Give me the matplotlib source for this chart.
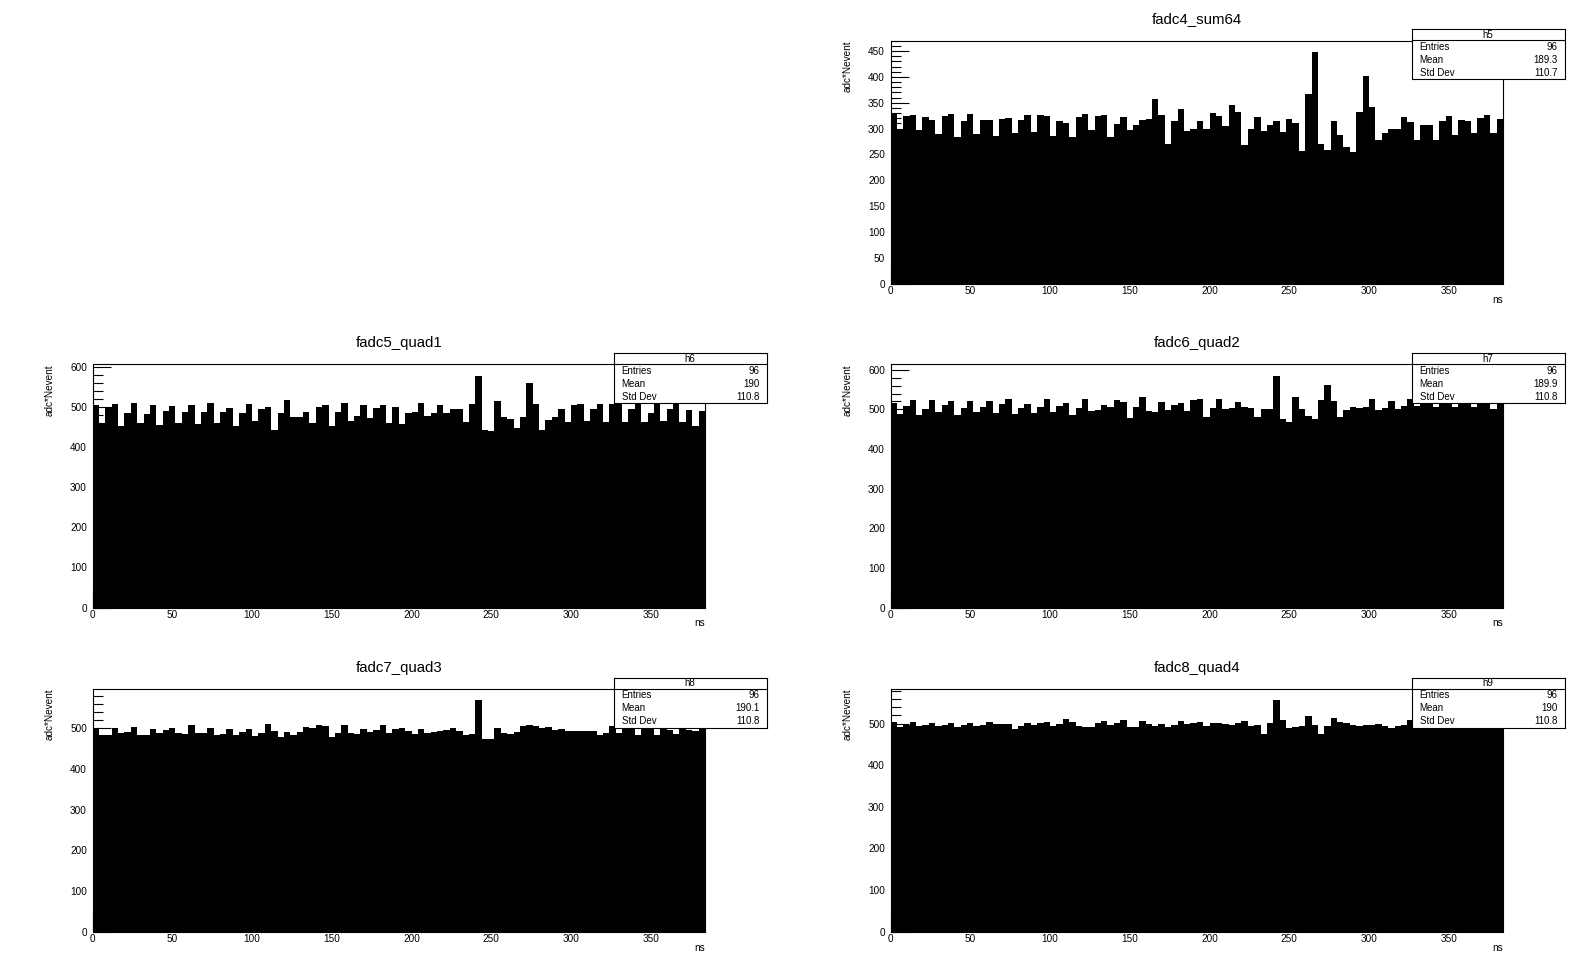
import numpy as np
import matplotlib
matplotlib.use("Agg")
import matplotlib.pyplot as plt
from matplotlib.ticker import MultipleLocator

plt.rcParams['font.family'] = ['Liberation Sans', 'DejaVu Sans']

# ---------------- data ----------------
bin_edges_ns = np.arange(0, 385, 4)   # 96 bins of 4 ns

fadc4_sum64 = [329, 300, 325, 327, 298, 323, 317, 290, 325, 329, 284, 314, 329, 290, 317, 317,
               286, 319, 321, 292, 316, 327, 294, 327, 325, 286, 314, 310, 284, 323, 329, 298,
               325, 327, 284, 308, 323, 298, 306, 316, 319, 358, 327, 271, 314, 337, 296, 300,
               314, 300, 330, 325, 304, 345, 332, 268, 299, 323, 295, 306, 315, 294, 319, 310,
               257, 367, 448, 271, 258, 315, 288, 265, 255, 332, 401, 341, 278, 291, 299, 300,
               323, 312, 278, 307, 306, 278, 315, 325, 288, 317, 315, 291, 321, 327, 291, 319]

fadc5_quad1 = [504, 461, 500, 507, 453, 485, 510, 461, 482, 504, 455, 489, 502, 461, 487, 504,
               458, 487, 511, 461, 487, 497, 453, 485, 507, 466, 494, 499, 443, 485, 518, 475,
               475, 487, 461, 499, 504, 453, 487, 509, 464, 477, 504, 472, 497, 504, 461, 499,
               458, 485, 488, 510, 478, 484, 504, 484, 494, 496, 463, 508, 577, 443, 439, 514,
               476, 470, 447, 476, 559, 508, 443, 468, 476, 496, 463, 504, 508, 466, 496, 508,
               463, 508, 508, 463, 496, 508, 463, 484, 508, 466, 496, 510, 463, 492, 452, 490]

fadc6_quad2 = [517, 489, 509, 524, 486, 501, 524, 494, 511, 521, 486, 504, 521, 494, 506, 521,
               491, 514, 526, 488, 504, 514, 491, 506, 526, 494, 509, 516, 486, 504, 526, 496,
               499, 511, 506, 524, 519, 479, 506, 532, 496, 494, 519, 499, 511, 516, 496, 524,
               526, 481, 503, 526, 501, 503, 519, 506, 503, 481, 501, 501, 584, 476, 469, 532,
               501, 484, 476, 524, 562, 522, 481, 498, 506, 503, 506, 526, 498, 503, 522, 501,
               509, 526, 508, 525, 520, 505, 524, 518, 506, 522, 515, 506, 524, 520, 500, 515]

fadc7_quad3 = [500, 485, 485, 501, 489, 491, 503, 485, 485, 498, 489, 496, 501, 489, 486, 508,
               489, 489, 501, 484, 486, 498, 484, 491, 498, 481, 490, 511, 493, 479, 491, 484,
               491, 503, 501, 508, 506, 479, 489, 508, 489, 486, 498, 491, 496, 508, 489, 498,
               501, 493, 487, 499, 489, 491, 493, 497, 501, 494, 485, 486, 570, 475, 475, 501,
               488, 486, 491, 505, 508, 505, 501, 503, 497, 499, 494, 494, 493, 493, 493, 483,
               489, 505, 490, 498, 503, 485, 500, 498, 484, 500, 496, 486, 499, 497, 495, 498]

fadc8_quad4 = [504, 492, 497, 504, 494, 497, 502, 494, 497, 502, 492, 497, 502, 494, 497, 504,
               499, 499, 499, 487, 494, 502, 497, 502, 504, 494, 499, 511, 504, 494, 492, 492,
               502, 506, 497, 502, 509, 492, 492, 506, 499, 494, 499, 492, 497, 506, 499, 502,
               505, 494, 501, 501, 500, 498, 502, 506, 494, 497, 476, 502, 557, 509, 490, 493,
               494, 518, 498, 476, 494, 514, 505, 501, 498, 494, 498, 497, 500, 494, 490, 494,
               497, 508, 500, 505, 496, 502, 498, 500, 504, 497, 500, 502, 498, 501, 499, 497]

titles = ["fadc4_sum64", "fadc5_quad1", "fadc6_quad2", "fadc7_quad3", "fadc8_quad4"]
hist_names = ["h5", "h6", "h7", "h8", "h9"]
entries = ["96", "96", "96", "96", "96"]
means = ["189.3", "190", "189.9", "190.1", "190"]
stddevs = ["110.7", "110.8", "110.8", "110.8", "110.8"]
series = [fadc4_sum64, fadc5_quad1, fadc6_quad2, fadc7_quad3, fadc8_quad4]
x_label = "ns"
y_label = "adc*Nevent"

# ---------------- layout (pixels) ----------------
W, H = 1596, 972
fig = plt.figure(figsize=(W / 100, H / 100), dpi=100)
fig.patch.set_facecolor('white')

# pad (column, row) for each histogram; pad 0,0 is empty
pads = [(1, 0), (0, 1), (1, 1), (0, 2), (1, 2)]
pad_w, pad_h = W / 2, H / 3
ax_left_off = 92.5
ax_w = 612.5
ax_top_off = 40.5
ax_h = 243.0

box_left_off = 613.5
box_w = 153.0
box_top_off = 29.5
box_h = 50.0
box_head = 11.0

major_steps = [50, 100, 100, 100, 100]
minor_steps = [10, 20, 20, 20, 20]

for k, (col, row) in enumerate(pads):
    vals = series[k]
    px0 = col * pad_w
    py0 = row * pad_h
    left = (px0 + ax_left_off) / W
    bottom = 1 - (py0 + ax_top_off + ax_h) / H
    ax = fig.add_axes([left, bottom, ax_w / W, ax_h / H])
    ax.stairs(vals, bin_edges_ns, fill=True, color='black', linewidth=0)
    ax.set_xlim(bin_edges_ns[0], bin_edges_ns[-1])
    ax.set_ylim(0, 1.05 * max(vals))
    ax.xaxis.set_major_locator(MultipleLocator(50))
    ax.xaxis.set_minor_locator(MultipleLocator(10))
    ax.yaxis.set_major_locator(MultipleLocator(major_steps[k]))
    ax.yaxis.set_minor_locator(MultipleLocator(minor_steps[k]))
    ax.tick_params(axis='both', which='major', direction='in', length=13, width=0.8,
                   labelsize=7.2, colors='black')
    ax.tick_params(axis='both', which='minor', direction='in', length=7, width=0.8)
    ax.tick_params(axis='x', which='both', pad=2)
    ax.tick_params(axis='y', which='both', pad=4)
    ax.tick_params(axis='y', which='both', right=False)
    ax.tick_params(axis='x', which='both', top=False)
    for s in ax.spines.values():
        s.set_linewidth(0.8)
        s.set_color('black')
    ax.set_xlabel(x_label, fontsize=7.2, loc='right')
    ax.xaxis.set_label_coords(1.0, -11 / ax_h)
    ax.xaxis.label.set_verticalalignment('top')
    ax.set_ylabel(y_label, fontsize=7.2, loc='top')
    ax.yaxis.set_label_coords(-38 / ax_w, 1.0)

    # title centered on pad
    fig.text((px0 + pad_w / 2) / W, 1 - (py0 + 19.5) / H, titles[k],
             ha='center', va='center', fontsize=10.8)

    # stats box
    bx = fig.add_axes([(px0 + box_left_off) / W, 1 - (py0 + box_top_off + box_h) / H,
                       box_w / W, box_h / H])
    bx.set_xlim(0, box_w)
    bx.set_ylim(box_h, 0)
    bx.set_xticks([])
    bx.set_yticks([])
    bx.set_facecolor('white')
    for s in bx.spines.values():
        s.set_linewidth(0.8)
        s.set_color('black')
    bx.axhline(box_head, color='black', linewidth=0.8)
    bx.text(box_w / 2, box_head / 2 + 0.3, hist_names[k], ha='center', va='center', fontsize=7)
    row_h = (box_h - box_head) / 3
    labels = ["Entries", "Mean", "Std Dev"]
    values = [entries[k], means[k], stddevs[k]]
    for r in range(3):
        yc = box_head + row_h * (r + 0.5)
        bx.text(8, yc, labels[r], ha='left', va='center', fontsize=7)
        bx.text(box_w - 7, yc, values[r], ha='right', va='center', fontsize=7)

fig.savefig("out.png", dpi=100, facecolor='white')
